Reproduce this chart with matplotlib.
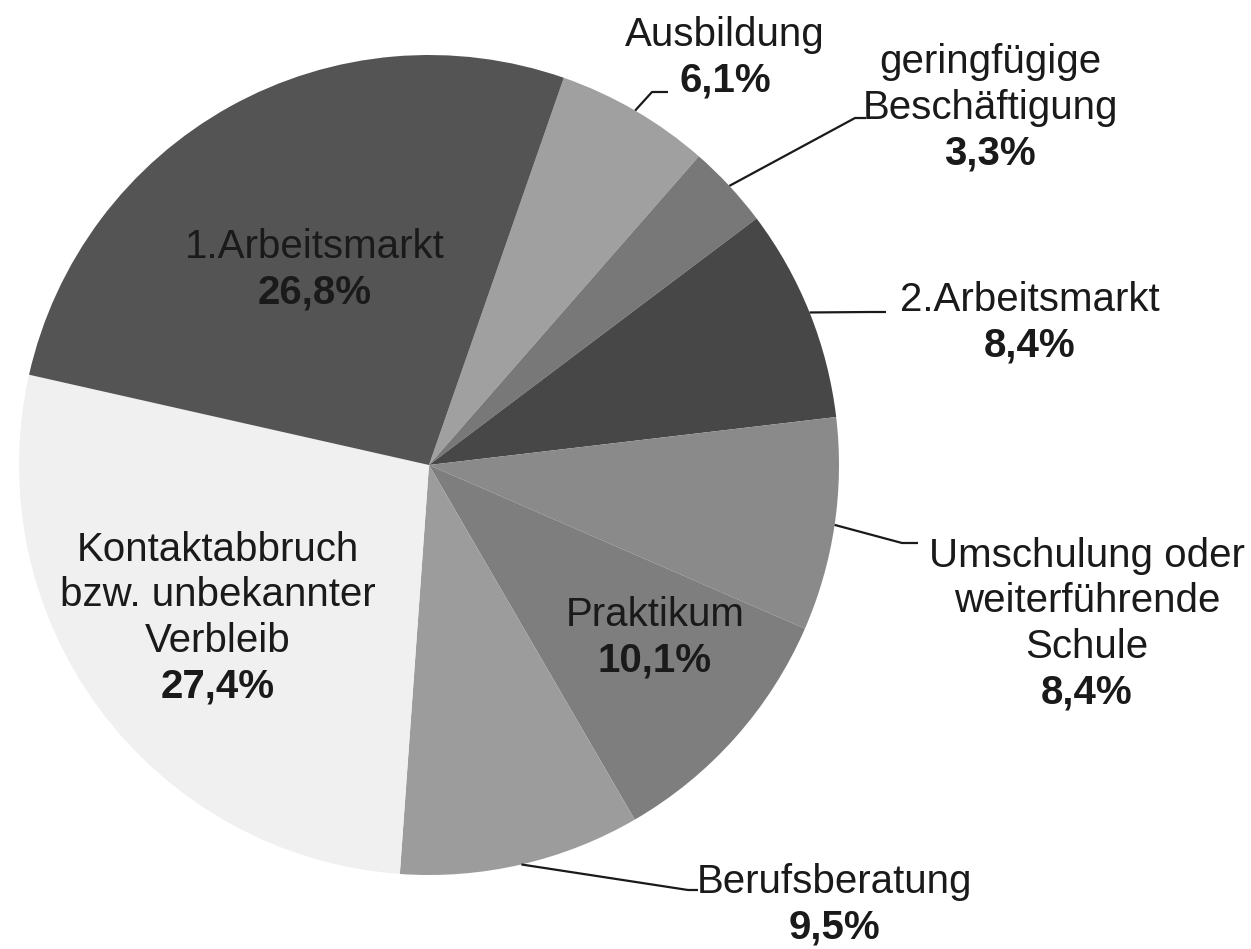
import numpy as np
import matplotlib
matplotlib.use("Agg")
import matplotlib.pyplot as plt

plt.rcParams['font.family'] = ['Liberation Sans', 'DejaVu Sans']

# data, clockwise from the top
categories = ["Ausbildung", "geringfügige\nBeschäftigung", "2.Arbeitsmarkt",
              "Umschulung oder\nweiterführende\nSchule", "Praktikum",
              "Berufsberatung", "Kontaktabbruch\nbzw. unbekannter\nVerbleib",
              "1.Arbeitsmarkt"]
shares = [6.1, 3.3, 8.4, 8.4, 10.1, 9.5, 27.4, 26.8]
greys = ["#a0a0a0", "#787878", "#474747", "#8a8a8a", "#7e7e7e",
         "#9c9c9c", "#f0f0f0", "#545454"]

H = 949
cx, cy, R = 429, H - 465, 410

# label layout: (x centre, y of first line in image px, leader elbow or None)
label_pos = [
    (725, 35, (652, 92, 668)),
    (990, 62, (855, 118, 866)),
    (1030, 300, (870, 312, 886)),
    (1087, 556, (902, 543, 918)),
    (655, 615, None),
    (835, 882, (688, 890, 698)),
    (218, 550, None),
    (315, 247, None),
]
pitch = 45.5
fs = 29

fig = plt.figure(figsize=(12.51, 9.49), dpi=100)
ax = fig.add_axes([0, 0, 1, 1])
ax.set_xlim(0, 1251)
ax.set_ylim(0, H)
ax.set_aspect('equal')
ax.axis('off')

wedges, _ = ax.pie(shares, colors=greys, startangle=70.8, counterclock=False,
                   center=(cx, cy), radius=R, frame=True,
                   wedgeprops=dict(linewidth=0))
ax.set_xlim(0, 1251)
ax.set_ylim(0, H)
ax.axis('off')

for w, name, v, (tx, ty, elbow) in zip(wedges, categories, shares, label_pos):
    lines = name.split("\n")
    for i, ln in enumerate(lines):
        ax.text(tx, H - (ty + i * pitch), ln, ha='center', va='center',
                fontsize=fs, color='#1a1a1a')
    pct = f"{v:.1f}".replace(".", ",") + "%"
    ax.text(tx, H - (ty + len(lines) * pitch), pct, ha='center', va='center',
            fontsize=fs, fontweight='bold', color='#1a1a1a')
    if elbow is not None:
        mid = np.deg2rad((w.theta1 + w.theta2) / 2)
        x0 = cx + R * np.cos(mid)
        y0 = cy + R * np.sin(mid)
        ex, ey, ex2 = elbow
        ax.plot([x0, ex, ex2], [y0, H - ey, H - ey], color='#1a1a1a', lw=1.6,
                solid_capstyle='butt')

fig.savefig("out.png", dpi=100, facecolor='white')
